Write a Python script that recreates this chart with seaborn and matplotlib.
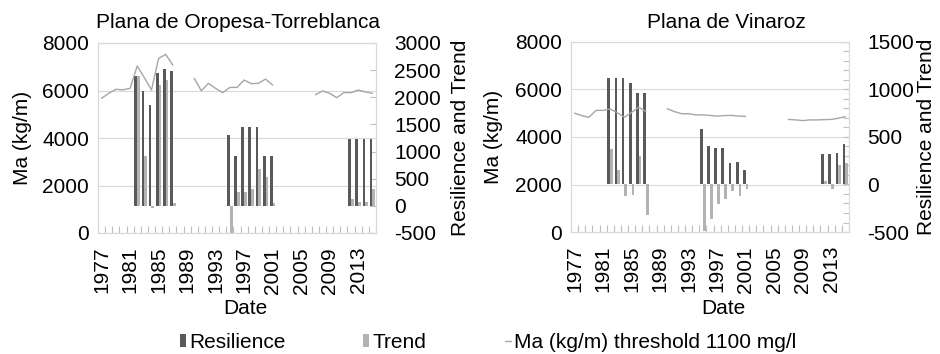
import numpy as np
import pandas as pd
import matplotlib
matplotlib.use("Agg")
import matplotlib.pyplot as plt
import seaborn as sns
from matplotlib.patches import Patch
from matplotlib.lines import Line2D
from matplotlib.ticker import FixedLocator, MultipleLocator

nan = np.nan

# ---------------- data ----------------
years = list(range(1977, 2016))
tick_years = list(range(1977, 2016, 4))

ma_oropesa = [5670, 5880, 6050, 6030, 6090, 7030, 6540, 6020, 7350, 7520, 7070,
              nan, nan,
              6510, 5990, 6300, 6090, 5910, 6130, 6130, 6440, 6290, 6300, 6480, 6230,
              nan, nan, nan, nan, nan,
              5820, 5980, 5880, 5700, 5910, 5910, 6020, 5940, 5880]
ma_vinaroz = [5000, 4900, 4830, 5120, 5120, 5180, 5020, 4830, 5040, 5250, 5080,
              nan, nan,
              5190, 5070, 4980, 4980, 4930, 4930, 4910, 4880, 4900, 4910, 4880, 4870,
              nan, nan, nan, nan, nan,
              4740, 4720, 4690, 4720, 4720, 4730, 4740, 4790, 4860]

bar_years = [1982, 1983, 1984, 1985, 1986, 1987,
             1995, 1996, 1997, 1998, 1999, 2000, 2001,
             2012, 2013, 2014, 2015]
res_oropesa = [2390, 2110, 1860, 2450, 2520, 2480,
               1310, 920, 1450, 1450, 1450, 920, 920,
               1240, 1240, 1240, 1240]
trend_oropesa = [2390, 920, -40, 2230, 2310, 60,
                 -500, 250, 250, 310, 680, 540, 60,
                 130, 80, 80, 310]
res_vinaroz = [1120, 1120, 1120, 1065, 960, 960,
               580, 410, 380, 380, 230, 235, 150,
               320, 320, 335, 425]
trend_vinaroz = [375, 155, -120, -115, 295, -320,
                 -490, -365, -205, -155, -65, -125, -45,
                 40, -50, 205, 225]

titles = ["Plana de Oropesa-Torreblanca", "Plana de Vinaroz"]
series_names = ["Resilience", "Trend"]
line_name = "Ma (kg/m) threshold 1100 mg/l"

# ---------------- style ----------------
sns.set_theme(style="white")
plt.rcParams["font.family"] = ["Liberation Sans", "DejaVu Sans"]
plt.rcParams["text.color"] = "black"
plt.rcParams["axes.labelcolor"] = "black"
plt.rcParams["axes.unicode_minus"] = False
FS = 15
DARK = "#595959"
LIGHT = "#b3b3b3"
LINEC = "#a6a6a6"
GRID = "#d9d9d9"
TICKC = "#bfbfbf"

fig = plt.figure(figsize=(9.4, 3.54), dpi=100)

panels = [
    dict(ma=ma_oropesa, res=res_oropesa, trend=trend_oropesa, ylim2=(-500, 3000), minor2=None,
         rect=[98 / 940, 1 - 233 / 354, 278 / 940, 190 / 354], title_x=238,
         ylab_x=-0.237, ylab2_x=1.268, xlab=(0.529, -0.347)),
    dict(ma=ma_vinaroz, res=res_vinaroz, trend=trend_vinaroz, ylim2=(-500, 1500), minor2=100,
         rect=[571 / 940, 1 - 232 / 354, 278 / 940, 190 / 354], title_x=726,
         ylab_x=-0.245, ylab2_x=1.246, xlab=(0.547, -0.353)),
]

order = [str(y) for y in years]
positions = np.arange(len(years))

for p, title in zip(panels, titles):
    ax = fig.add_axes(p["rect"])
    ax2 = ax.twinx()
    ax3 = ax.twinx()

    # bars
    bars = pd.DataFrame({
        "Year": [str(y) for y in bar_years] * 2,
        "Series": [series_names[0]] * len(bar_years) + [series_names[1]] * len(bar_years),
        "Value": p["res"] + p["trend"],
    })
    sns.barplot(data=bars, x="Year", y="Value", hue="Series", order=order,
                hue_order=series_names, palette={series_names[0]: DARK, series_names[1]: LIGHT},
                width=0.78, errorbar=None, saturation=1, linewidth=0, legend=False, ax=ax2)

    # line (segments separated at missing years)
    ma = np.array(p["ma"], dtype=float)
    seg = np.cumsum(np.isnan(ma))
    line = pd.DataFrame({"Pos": positions, "Ma": ma, "Seg": seg}).dropna()
    sns.lineplot(data=line, x="Pos", y="Ma", units="Seg", estimator=None,
                 color=LINEC, linewidth=1.0, ax=ax3)

    # primary axis (Ma)
    ax.set_ylim(0, 8000)
    ax3.set_ylim(0, 8000)
    ax.set_yticks([0, 2000, 4000, 6000, 8000])
    ax.yaxis.grid(True, color=GRID, linewidth=0.8)
    ax.set_axisbelow(True)
    ax.tick_params(axis="y", length=0, pad=6.5, labelsize=FS, labelcolor="black")
    ax.set_ylabel("Ma (kg/m)", fontsize=FS)
    ax.yaxis.set_label_coords(p["ylab_x"], 0.5)

    # x axis
    ax.set_xlim(-0.5, len(years) - 0.5)
    ax.set_xticks([years.index(y) for y in tick_years], labels=[str(y) for y in tick_years])
    ax.xaxis.set_minor_locator(FixedLocator(np.arange(-0.5, len(years), 1.0)))
    ax.tick_params(axis="x", which="major", length=0, pad=10, labelsize=FS,
                   labelrotation=90, labelcolor="black")
    ax.tick_params(axis="x", which="minor", direction="in", length=5, width=0.8,
                   color=TICKC, bottom=True)
    ax.set_xlabel("Date", fontsize=FS)
    ax.xaxis.set_label_coords(*p["xlab"])

    # secondary axis (Resilience & Trend)
    ax2.set_ylim(*p["ylim2"])
    ax2.yaxis.set_major_locator(MultipleLocator(500))
    ax2.tick_params(axis="y", which="major", direction="in", length=4, width=0.8,
                    color=TICKC, pad=13, labelsize=FS, labelcolor="black")
    if p["minor2"]:
        ax2.yaxis.set_minor_locator(MultipleLocator(p["minor2"]))
        ax2.tick_params(axis="y", which="minor", direction="in", length=4, width=0.8,
                        color=TICKC)
    ax2.set_ylabel("Resilience and Trend", fontsize=FS)
    ax2.yaxis.set_label_coords(p["ylab2_x"], 0.5)
    ax2.set_xlabel("")

    ax3.set_axis_off()
    ax.set_xlim(-0.5, len(years) - 0.5)

    for a in (ax, ax2):
        for s in a.spines.values():
            s.set_color(GRID)
            s.set_linewidth(0.8)

    fig.text(p["title_x"] / 940, 1 - 28 / 354, title, ha="center", va="baseline", fontsize=FS)

# legend (three entries spread along the bottom)
leg_items = [
    (Patch(facecolor=DARK, edgecolor="none"), series_names[0], 180),
    (Patch(facecolor=LIGHT, edgecolor="none"), series_names[1], 363),
    (Line2D([0], [0], color=LINEC, linewidth=1.0), line_name, 505),
]
for handle, label, x in leg_items:
    fig.legend([handle], [label], loc="center left", bbox_to_anchor=(x / 940, 1 - 342 / 354),
               frameon=False, fontsize=FS, handlelength=0.3, handleheight=0.6,
               handletextpad=0.15, borderpad=0, borderaxespad=0)

fig.savefig("out.png", dpi=100)
